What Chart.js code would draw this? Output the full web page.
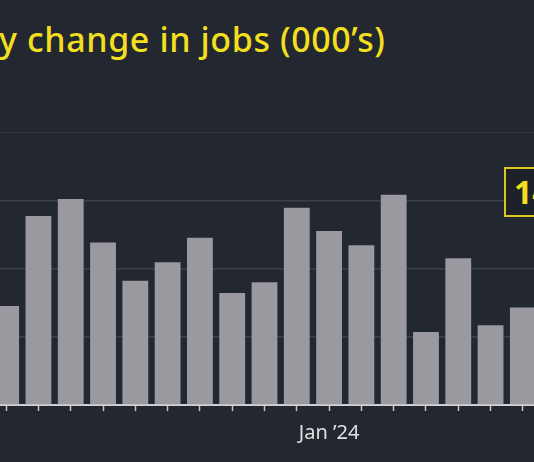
<!DOCTYPE html>
<html lang="en">
<head>
<meta charset="UTF-8">
<title>Monthly change in jobs</title>
<script src="https://cdn.jsdelivr.net/npm/chart.js"></script>
<style>
    body { margin: 0; width: 534px; height: 462px; overflow: hidden; background: #23272f; position: relative; font-family: "Noto Sans", sans-serif; }
    .title { position: absolute; left: -1px; top: 16px; color: #f2df1f; font-size: 34px; font-weight: 500; letter-spacing: 0.6px; white-space: nowrap; }
    .wrap { position: absolute; left: -10px; top: 132px; width: 549px; height: 330px; }
    .tag { position: absolute; left: 504px; top: 167px; height: 46px; padding: 0 8px; border: 2px solid #d9c81c; background: #1e2128; color: #f2df1f; font-size: 32px; font-weight: bold; line-height: 46px; white-space: nowrap; }
</style>
</head>
<body>
<div class="title">y change in jobs (000’s)</div>
<div class="wrap"><canvas id="jobsChart"></canvas></div>
<div class="tag">147</div>
<script>
// Mar 2023 .. Jul 2024
const months = ["Mar 23","Apr 23","May 23","Jun 23","Jul 23","Aug 23","Sep 23","Oct 23","Nov 23","Dec 23",
                "Jan 24","Feb 24","Mar 24","Apr 24","May 24","Jun 24","Jul 24"];
const jobs = [145, 277, 302, 238, 182, 209, 245, 164, 180, 289, 255, 234, 308, 107, 215, 117, 143];
const shownLabels = { "Jan 24": "Jan ’24" };

new Chart(document.getElementById('jobsChart'), {
    type: 'bar',
    data: {
        labels: months,
        datasets: [{ data: jobs, backgroundColor: '#99999f', barPercentage: 0.8, categoryPercentage: 1 }]
    },
    options: {
        responsive: true,
        maintainAspectRatio: false,
        animation: false,
        layout: { padding: 0 },
        plugins: { legend: { display: false }, tooltip: { enabled: false } },
        scales: {
            x: {
                grid: { offset: false, drawOnChartArea: false, color: '#c8c8cc', tickLength: 6, tickWidth: 1.5 },
                border: { color: '#d0d0d4', width: 2 },
                ticks: {
                    autoSkip: false, maxRotation: 0, padding: 10,
                    color: '#e0e0e0', font: { size: 20, family: 'Noto Sans' },
                    callback: function (v, i) { return shownLabels[months[i]] || ''; }
                },
                afterFit: function (s) { s.height = 57; }
            },
            y: {
                min: 0, max: 400,
                ticks: { display: false, stepSize: 100 },
                grid: { color: '#3c4049', lineWidth: 1.5, drawTicks: false },
                border: { display: false },
                afterFit: function (s) { s.width = 0; }
            }
        }
    }
});
</script>
</body>
</html>
